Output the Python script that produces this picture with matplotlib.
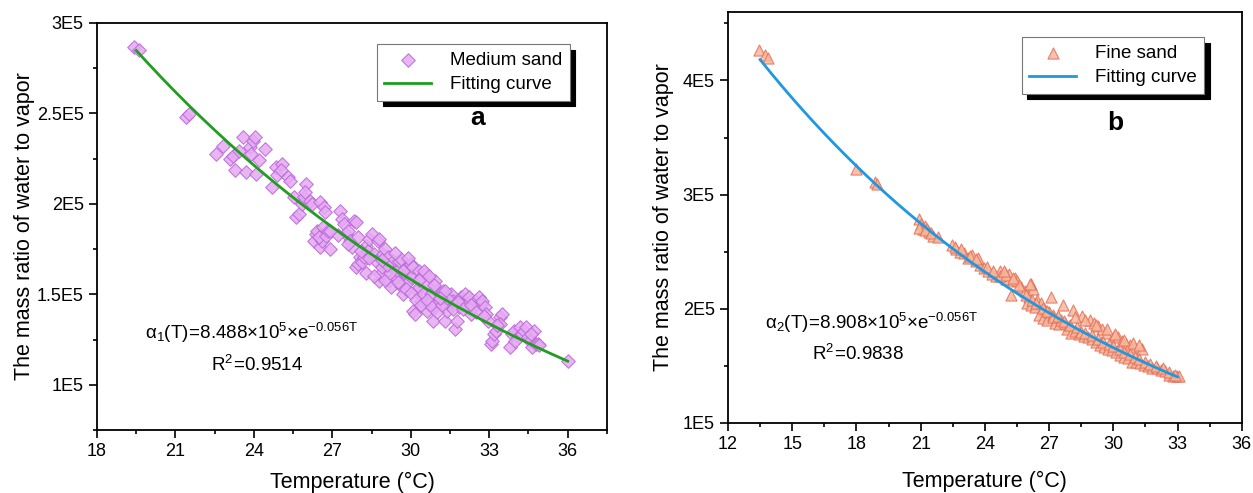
import numpy as np
import matplotlib
matplotlib.use("Agg")
import matplotlib.pyplot as plt
from matplotlib.ticker import MultipleLocator, FuncFormatter

plt.rcParams['font.family'] = ['Liberation Sans', 'DejaVu Sans']
plt.rcParams['mathtext.fontset'] = 'custom'
plt.rcParams['mathtext.rm'] = 'Liberation Sans'
plt.rcParams['mathtext.it'] = 'Liberation Sans:italic'
plt.rcParams['mathtext.bf'] = 'Liberation Sans:bold'

# ---------------- data (ratio values in units of 1E5) ----------------
medium_T = [19.4, 19.6, 21.4, 21.5, 22.56, 22.82, 23.09, 23.2, 23.29, 23.42,
            23.58, 23.68, 23.85, 23.95, 24.03, 23.9, 24.08, 24.18, 24.41, 24.68,
            24.86, 24.9, 25.09, 25.02, 25.32, 25.39, 25.55, 25.62, 25.74, 25.85,
            25.92, 26.0, 25.95, 26.15, 26.23, 26.3, 26.38, 26.42, 26.53, 26.6,
            26.5, 26.65, 26.76, 26.83, 26.53, 26.68, 26.71, 26.91, 27.29, 27.36,
            27.44, 27.52, 27.59, 27.67, 27.74, 27.82, 27.89, 27.97, 28.05, 27.89,
            27.97, 28.12, 28.2, 28.27, 28.35, 28.42, 28.5, 28.58, 28.65, 28.73,
            28.8, 28.77, 28.83, 28.88, 28.95, 29.03, 29.11, 29.18, 29.26, 29.26,
            29.33, 29.41, 29.48, 29.56, 29.64, 29.64, 29.71, 29.79, 29.86, 29.94,
            30.02, 30.02, 30.09, 30.09, 30.17, 30.24, 30.32, 30.32, 30.39, 30.39,
            30.47, 30.55, 30.62, 30.62, 30.7, 30.77, 30.85, 30.92, 31.0, 30.92,
            31.08, 31.15, 31.23, 31.3, 31.38, 31.45, 31.53, 31.61, 31.68, 31.76,
            31.83, 31.91, 31.98, 32.06, 32.14, 32.21, 32.29, 32.36, 32.44, 32.59,
            32.67, 32.74, 32.82, 32.89, 32.97, 33.05, 33.12, 33.2, 33.27, 33.42,
            33.5, 33.42, 33.8, 33.88, 33.95, 34.11, 34.18, 34.26, 34.33, 34.41,
            34.48, 34.56, 34.64, 34.71, 34.79, 34.86, 36.0,
            28.3, 28.6, 29.0, 29.2, 29.5, 29.8, 30.0, 30.2, 30.4, 30.6,
            30.8, 31.0, 31.2, 31.4, 31.6, 31.8, 32.0, 32.3, 32.5, 32.8,
            29.1, 29.7, 30.3, 30.9, 31.3, 28.1, 28.4, 27.6, 27.2, 26.9,
            30.5, 29.9, 30.7, 31.1, 28.9, 29.4, 33.3, 34.0, 34.6, 34.9]
medium_ratio_e5 = [2.867, 2.849, 2.48, 2.498, 2.273, 2.319, 2.249, 2.267, 2.185, 2.295,
                   2.369, 2.175, 2.314, 2.35, 2.369, 2.277, 2.166, 2.24, 2.304, 2.092,
                   2.203, 2.157, 2.221, 2.185, 2.148, 2.129, 2.037, 1.926, 1.945, 2.0,
                   2.037, 2.111, 2.065, 2.018, 2.0, 1.797, 1.834, 1.852, 1.76, 1.797,
                   1.815, 1.87, 1.825, 1.852, 2.009, 1.982, 1.954, 1.751, 1.963, 1.917,
                   1.889, 1.834, 1.852, 1.797, 1.76, 1.908, 1.898, 1.815, 1.705, 1.649,
                   1.668, 1.677, 1.705, 1.769, 1.742, 1.806, 1.834, 1.723, 1.686, 1.797,
                   1.806, 1.576, 1.612, 1.649, 1.723, 1.751, 1.705, 1.576, 1.539, 1.649,
                   1.686, 1.594, 1.631, 1.686, 1.696, 1.548, 1.502, 1.612, 1.649, 1.576,
                   1.594, 1.668, 1.649, 1.41, 1.391, 1.52, 1.539, 1.631, 1.594, 1.465,
                   1.502, 1.612, 1.557, 1.41, 1.446, 1.502, 1.354, 1.576, 1.52, 1.428,
                   1.465, 1.502, 1.52, 1.354, 1.41, 1.446, 1.502, 1.465, 1.308, 1.354,
                   1.428, 1.483, 1.465, 1.502, 1.446, 1.483, 1.391, 1.428, 1.465, 1.483,
                   1.446, 1.465, 1.428, 1.391, 1.354, 1.225, 1.244, 1.28, 1.299, 1.373,
                   1.391, 1.336, 1.207, 1.28, 1.299, 1.262, 1.317, 1.28, 1.299, 1.317,
                   1.262, 1.244, 1.207, 1.299, 1.225, 1.225, 1.133,
                   1.62, 1.60, 1.58, 1.62, 1.57, 1.53, 1.51, 1.47, 1.44, 1.47,
                   1.43, 1.40, 1.44, 1.48, 1.42, 1.46, 1.42, 1.44, 1.40, 1.38,
                   1.66, 1.63, 1.58, 1.55, 1.52, 1.74, 1.70, 1.78, 1.83, 1.85,
                   1.63, 1.70, 1.60, 1.48, 1.69, 1.73, 1.33, 1.24, 1.28, 1.22]

fine_T = [13.46, 13.74, 13.89, 18.0, 18.86, 18.95, 20.94, 21.03, 21.13, 21.22,
          21.41, 21.6, 20.94, 21.32, 22.45, 22.64, 22.83, 23.02, 23.21, 23.4,
          23.59, 23.78, 23.97, 23.69, 24.16, 24.35, 24.54, 24.73, 24.92, 25.01,
          25.11, 25.39, 25.48, 25.2, 25.67, 25.86, 26.05, 26.15, 26.24, 25.96,
          26.15, 26.34, 26.43, 26.62, 26.81, 26.53, 26.72, 26.91, 27.09, 27.0,
          27.19, 27.38, 27.28, 27.47, 27.66, 27.57, 27.76, 27.95, 27.85, 28.04,
          28.14, 28.23, 28.42, 28.52, 28.61, 28.8, 28.89, 28.99, 29.18, 29.08,
          29.27, 29.46, 29.37, 29.56, 29.75, 29.65, 29.94, 30.13, 30.03, 30.22,
          30.41, 30.31, 30.5, 30.69, 30.6, 30.79, 30.98, 30.88, 31.07, 31.26,
          31.36, 31.45, 31.64, 31.83, 32.02, 32.21, 32.4, 32.59, 32.78, 32.97,
          33.06,
          21.2, 21.5, 21.8, 22.6, 22.9, 23.3, 23.6, 24.1, 24.4, 24.7,
          25.0, 25.3, 25.6, 25.9, 26.2, 26.4, 26.7, 26.9, 27.2, 27.4,
          27.7, 28.0, 28.3, 28.5, 28.7, 29.0, 29.3, 29.5, 29.8, 30.0,
          30.3, 30.5, 30.8, 31.0, 31.2, 31.5, 31.7, 32.0, 32.3, 32.6,
          32.9, 28.2, 28.7, 29.2, 29.7, 30.1, 30.5, 30.9, 31.2, 26.1,
          25.3, 24.9]
fine_ratio_e5 = [4.269, 4.226, 4.198, 3.222, 3.108, 3.094, 2.783, 2.74, 2.698, 2.726,
                 2.67, 2.641, 2.712, 2.698, 2.557, 2.528, 2.5, 2.486, 2.443, 2.472,
                 2.415, 2.387, 2.358, 2.443, 2.33, 2.302, 2.288, 2.33, 2.316, 2.259,
                 2.302, 2.273, 2.245, 2.118, 2.189, 2.16, 2.104, 2.217, 2.174, 2.047,
                 2.033, 2.019, 2.075, 2.047, 1.99, 1.948, 1.92, 1.906, 2.104, 1.976,
                 1.948, 1.92, 1.877, 1.863, 2.033, 1.906, 1.877, 1.849, 1.82, 1.792,
                 1.99, 1.806, 1.778, 1.934, 1.764, 1.75, 1.906, 1.736, 1.707, 1.877,
                 1.849, 1.82, 1.679, 1.665, 1.651, 1.792, 1.637, 1.622, 1.764, 1.75,
                 1.722, 1.594, 1.58, 1.566, 1.693, 1.679, 1.665, 1.537, 1.537, 1.523,
                 1.651, 1.509, 1.495, 1.481, 1.481, 1.467, 1.453, 1.424, 1.41, 1.41,
                 1.41,
                 2.69, 2.66, 2.63, 2.54, 2.52, 2.46, 2.44, 2.37, 2.33, 2.29,
                 2.30, 2.25, 2.21, 2.12, 2.08, 2.05, 2.01, 1.98, 1.93, 1.94,
                 1.89, 1.86, 1.84, 1.80, 1.79, 1.77, 1.74, 1.71, 1.69, 1.67,
                 1.65, 1.62, 1.60, 1.58, 1.56, 1.53, 1.52, 1.50, 1.48, 1.45,
                 1.42, 1.93, 1.90, 1.86, 1.82, 1.78, 1.73, 1.70, 1.68, 2.22,
                 2.27, 2.33]

# fitted model parameters: alpha(T) = A * exp(-k T), drawn over [T0, T1]
fit_medium = dict(A=8.488e5, k=0.056, T0=19.5, T1=36.0)
fit_fine = dict(A=8.908e5, k=0.056, T0=13.5, T1=33.0)

labels_medium = ("Medium sand", "Fitting curve")
labels_fine = ("Fine sand", "Fitting curve")
eq_medium = r"$\mathregular{\alpha_1(T)\!=\!8.488{\times}10^5{\times}e^{-0.056T}}$"
eq_fine = r"$\mathregular{\alpha_2(T)\!=\!8.908{\times}10^5{\times}e^{-0.056T}}$"
r2_medium = r"$\mathregular{R^2\!=\!0.9514}$"
r2_fine = r"$\mathregular{R^2\!=\!0.9838}$"

SCALE = 1e5


def e5_fmt(v, pos):
    val = v / SCALE
    if abs(val - round(val)) < 1e-9:
        return f"{int(round(val))}E5"
    return f"{val:g}E5"


def style_axes(ax):
    for s in ax.spines.values():
        s.set_linewidth(1.3)
    ax.tick_params(which='both', direction='out', top=False, right=False,
                   labelsize=13, width=1.2)
    ax.tick_params(which='major', length=6)
    ax.tick_params(which='minor', length=3)
    ax.yaxis.set_major_formatter(FuncFormatter(e5_fmt))


fig = plt.figure(figsize=(12.53, 4.93), dpi=100)
axL = fig.add_axes([0.0774, 0.1278, 0.407, 0.8256])
axR = fig.add_axes([0.581, 0.142, 0.410, 0.8337])

# ---------------- left panel ----------------
yL = np.array(medium_ratio_e5) * SCALE
axL.scatter(medium_T, yL, marker='D', s=48, facecolor='#e6aaf2',
            edgecolor='#b868d8', linewidths=0.8, alpha=0.85, zorder=2,
            label=labels_medium[0])
tL = np.linspace(fit_medium['T0'], fit_medium['T1'], 200)
axL.plot(tL, fit_medium['A'] * np.exp(-fit_medium['k'] * tL), color='#1f9e1f',
         lw=2.0, zorder=3, label=labels_medium[1])
axL.set_xlim(18, 37.5)
axL.set_ylim(0.75e5, 3e5)
axL.xaxis.set_major_locator(MultipleLocator(3))
axL.xaxis.set_minor_locator(MultipleLocator(1.5))
axL.yaxis.set_major_locator(MultipleLocator(0.5e5))
axL.yaxis.set_minor_locator(MultipleLocator(0.25e5))
style_axes(axL)
axL.set_xlabel("Temperature (°C)", fontsize=15.5)
axL.set_ylabel("The mass ratio of water to vapor", fontsize=15.5)
axL.xaxis.set_label_coords(0.5, -0.103)
axL.yaxis.set_label_coords(-0.122, 0.5)
axL.text(0.304, 0.238, eq_medium, transform=axL.transAxes, ha='center',
         va='center', fontsize=13.5)
axL.text(0.314, 0.160, r2_medium, transform=axL.transAxes, ha='center',
         va='center', fontsize=13.5)
axL.text(0.747, 0.767, "a", transform=axL.transAxes, ha='center', va='center',
         fontsize=19, fontweight='bold')
legL = axL.legend(loc='upper left', bbox_to_anchor=(0.549, 0.948),
                  borderaxespad=0, fontsize=13.5, frameon=True, fancybox=False,
                  edgecolor='#777777', framealpha=1, scatterpoints=1,
                  handlelength=2.5, handletextpad=1.0, labelspacing=0.4,
                  shadow={'ox': 4, 'oy': -4, 'facecolor': 'k',
                          'edgecolor': 'k', 'alpha': 1})
legL.get_frame().set_linewidth(0.8)

# ---------------- right panel ----------------
yR = np.array(fine_ratio_e5) * SCALE
axR.scatter(fine_T, yR, marker='^', s=64, facecolor='#f6b89c',
            edgecolor='#e5705a', linewidths=0.8, alpha=0.85, zorder=2,
            label=labels_fine[0])
tR = np.linspace(fit_fine['T0'], fit_fine['T1'], 200)
axR.plot(tR, fit_fine['A'] * np.exp(-fit_fine['k'] * tR), color='#1e98e0',
         lw=2.0, zorder=3, label=labels_fine[1])
axR.set_xlim(12, 36)
axR.set_ylim(1e5, 4.6e5)
axR.xaxis.set_major_locator(MultipleLocator(3))
axR.xaxis.set_minor_locator(MultipleLocator(1.5))
axR.yaxis.set_major_locator(MultipleLocator(1e5))
axR.yaxis.set_minor_locator(MultipleLocator(0.5e5))
style_axes(axR)
axR.set_xlabel("Temperature (°C)", fontsize=15.5)
axR.set_ylabel("The mass ratio of water to vapor", fontsize=15.5)
axR.xaxis.set_label_coords(0.5, -0.117)
axR.yaxis.set_label_coords(-0.105, 0.5)
axR.text(0.279, 0.243, eq_fine, transform=axR.transAxes, ha='center',
         va='center', fontsize=13.5)
axR.text(0.253, 0.168, r2_fine, transform=axR.transAxes, ha='center',
         va='center', fontsize=13.5)
axR.text(0.753, 0.73, "b", transform=axR.transAxes, ha='center', va='center',
         fontsize=19, fontweight='bold')
legR = axR.legend(loc='upper left', bbox_to_anchor=(0.572, 0.939),
                  borderaxespad=0, fontsize=13.5, frameon=True, fancybox=False,
                  edgecolor='#777777', framealpha=1, scatterpoints=1,
                  handlelength=2.5, handletextpad=1.0, labelspacing=0.4,
                  shadow={'ox': 4, 'oy': -4, 'facecolor': 'k',
                          'edgecolor': 'k', 'alpha': 1})
legR.get_frame().set_linewidth(0.8)

fig.savefig("out.png", dpi=100)
